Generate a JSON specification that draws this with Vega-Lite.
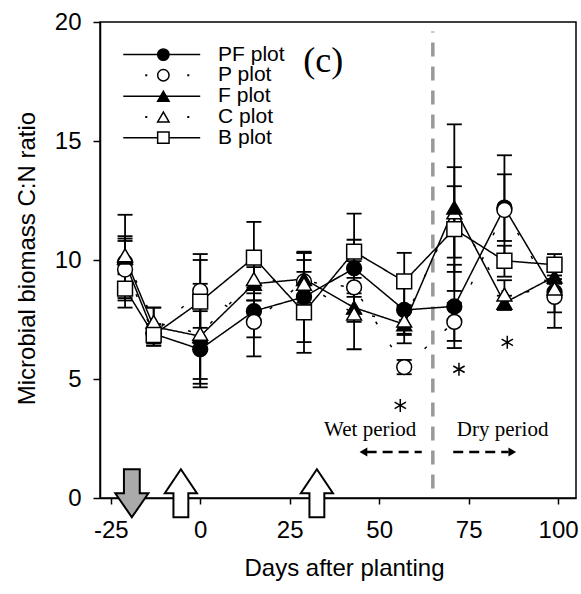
{
  "$schema": "https://vega.github.io/schema/vega-lite/v6.json",
  "width": 476,
  "height": 476,
  "autosize": {"type": "none"},
  "padding": {"left": 100, "top": 22, "right": 5, "bottom": 96},
  "background": "white",
  "config": {
    "view": {"stroke": "black", "strokeWidth": 1.5},
    "axis": {
      "grid": false,
      "domainColor": "black",
      "tickColor": "black",
      "domainWidth": 1.5,
      "tickWidth": 1.5,
      "labelFont": "Liberation Sans",
      "titleFont": "Liberation Sans",
      "labelFontSize": 24,
      "titleFontSize": 24,
      "labelColor": "black",
      "titleColor": "black",
      "titleFontWeight": "normal",
      "labelFlush": false,
      "labelOverlap": false
    }
  },
  "datasets": {
    "main": [
      {"s": "PF", "d": -21, "v": 9.9, "lo": 8.9, "hi": 10.9},
      {"s": "PF", "d": -13, "v": 6.9, "lo": 6.6, "hi": 7.2},
      {"s": "PF", "d": 0, "v": 6.25, "lo": 4.65, "hi": 7.85},
      {"s": "PF", "d": 15, "v": 7.85, "lo": 6.75, "hi": 8.95},
      {"s": "PF", "d": 29, "v": 8.45, "lo": 6.55, "hi": 10.35},
      {"s": "PF", "d": 43, "v": 9.65, "lo": 8.45, "hi": 10.85},
      {"s": "PF", "d": 57, "v": 7.9, "lo": 6.9, "hi": 8.9},
      {"s": "PF", "d": 71, "v": 8.05, "lo": 6.3, "hi": 9.8},
      {"s": "PF", "d": 85, "v": 12.2, "lo": 10.8, "hi": 13.6},
      {"s": "PF", "d": 99, "v": 8.65, "lo": 7.8, "hi": 9.5},
      {"s": "P", "d": -21, "v": 9.6, "lo": 8.4, "hi": 10.8},
      {"s": "P", "d": -13, "v": 6.9, "lo": 6.5, "hi": 7.3},
      {"s": "P", "d": 0, "v": 8.7, "lo": 7.15, "hi": 10.25},
      {"s": "P", "d": 15, "v": 7.4, "lo": 5.95, "hi": 8.85},
      {"s": "P", "d": 29, "v": 9.1, "lo": 8.2, "hi": 10.0},
      {"s": "P", "d": 43, "v": 8.85, "lo": 7.75, "hi": 9.95},
      {"s": "P", "d": 57, "v": 5.5, "lo": 5.2, "hi": 5.8},
      {"s": "P", "d": 71, "v": 7.4, "lo": 6.6, "hi": 8.2},
      {"s": "P", "d": 85, "v": 12.1, "lo": 9.8, "hi": 14.4},
      {"s": "P", "d": 99, "v": 8.45, "lo": 7.15, "hi": 9.75},
      {"s": "C", "d": 71, "v": 12.0, "lo": 10.1, "hi": 13.9},
      {"s": "F", "d": -21, "v": 10.1, "lo": 8.3, "hi": 11.9},
      {"s": "F", "d": -13, "v": 7.2, "lo": 6.4, "hi": 8.0},
      {"s": "F", "d": 0, "v": 6.8, "lo": 5.0, "hi": 8.6},
      {"s": "F", "d": 15, "v": 9.0, "lo": 8.3, "hi": 9.7},
      {"s": "F", "d": 29, "v": 9.2, "lo": 8.1, "hi": 10.3},
      {"s": "F", "d": 43, "v": 8.0, "lo": 7.4, "hi": 8.6},
      {"s": "F", "d": 57, "v": 7.3, "lo": 6.5, "hi": 8.1},
      {"s": "F", "d": 71, "v": 12.2, "lo": 8.7, "hi": 15.7},
      {"s": "F", "d": 85, "v": 8.2, "lo": 7.9, "hi": 8.5},
      {"s": "F", "d": 99, "v": 9.3, "lo": 9.0, "hi": 9.6},
      {"s": "C", "d": -21, "v": 10.2, "lo": 9.4, "hi": 11.0},
      {"s": "C", "d": -13, "v": 7.4, "lo": 6.8, "hi": 8.0},
      {"s": "C", "d": 0, "v": 6.9, "lo": 4.8, "hi": 9.0},
      {"s": "C", "d": 15, "v": 9.2, "lo": 8.3, "hi": 10.1},
      {"s": "C", "d": 29, "v": 9.0, "lo": 7.7, "hi": 10.3},
      {"s": "C", "d": 43, "v": 7.75, "lo": 6.25, "hi": 9.25},
      {"s": "C", "d": 57, "v": 7.45, "lo": 6.85, "hi": 8.05},
      {"s": "C", "d": 85, "v": 8.55, "lo": 7.95, "hi": 9.15},
      {"s": "C", "d": 99, "v": 8.8, "lo": 8.4, "hi": 9.2},
      {"s": "B", "d": -21, "v": 8.8, "lo": 8.0, "hi": 9.6},
      {"s": "B", "d": -13, "v": 6.85, "lo": 6.4, "hi": 7.3},
      {"s": "B", "d": 0, "v": 8.25, "lo": 6.5, "hi": 10.0},
      {"s": "B", "d": 15, "v": 10.1, "lo": 8.6, "hi": 11.6},
      {"s": "B", "d": 29, "v": 7.8, "lo": 6.1, "hi": 9.5},
      {"s": "B", "d": 43, "v": 10.35, "lo": 8.75, "hi": 11.95},
      {"s": "B", "d": 57, "v": 9.1, "lo": 7.9, "hi": 10.3},
      {"s": "B", "d": 71, "v": 11.3, "lo": 9.5, "hi": 13.1},
      {"s": "B", "d": 85, "v": 9.97, "lo": 9.3, "hi": 10.6},
      {"s": "B", "d": 99, "v": 9.8, "lo": 9.35, "hi": 10.25}
    ],
    "legend": [
      {"s": "PF", "label": "PF plot", "y": 18.63, "x1": -21.5, "x2": 0, "xs": -10.3, "xt": 5},
      {"s": "P", "label": "P plot", "y": 17.76, "x1": -21.5, "x2": 0, "xs": -10.3, "xt": 5},
      {"s": "F", "label": "F plot", "y": 16.88, "x1": -21.5, "x2": 0, "xs": -10.3, "xt": 5},
      {"s": "C", "label": "C plot", "y": 16.01, "x1": -21.5, "x2": 0, "xs": -10.3, "xt": 5},
      {"s": "B", "label": "B plot", "y": 15.14, "x1": -21.5, "x2": 0, "xs": -10.3, "xt": 5}
    ]
  },
  "layer": [
    {
      "data": {"values": [{"x": 65, "y1": 0.4, "y2": 19.6}]},
      "mark": {"type": "rule", "color": "#999999", "strokeWidth": 3.5, "strokeDash": [14, 10]},
      "encoding": {
        "x": {"field": "x", "type": "quantitative", "scale": {"domain": [-28, 105], "nice": false, "zero": false},
          "axis": {"values": [-25, 0, 25, 50, 75, 100], "labelExpr": "'' + datum.value", "title": "Days after planting", "tickSize": 6, "labelPadding": 14, "titleX": 244, "titleY": 77, "titleBaseline": "alphabetic", "titleAlign": "center"}},
        "y": {"field": "y1", "type": "quantitative", "scale": {"domain": [0, 20], "nice": false},
          "axis": {"values": [0, 5, 10, 15, 20], "title": "Microbial biomass C:N ratio", "tickSize": 7, "labelPadding": 12, "titleX": -66, "titleY": 236, "titleAngle": -90, "titleBaseline": "alphabetic", "titleAlign": "center"}},
        "y2": {"field": "y2"}
      }
    },
    {
      "data": {"name": "main"},
      "mark": {"type": "rule", "color": "black", "strokeWidth": 1.8},
      "encoding": {
        "x": {"field": "d", "type": "quantitative"},
        "y": {"field": "lo", "type": "quantitative"},
        "y2": {"field": "hi"}
      }
    },
    {
      "data": {"name": "main"},
      "mark": {"type": "tick", "orient": "horizontal", "color": "black", "size": 15, "thickness": 1.8, "opacity": 1},
      "encoding": {
        "x": {"field": "d", "type": "quantitative"},
        "y": {"field": "lo", "type": "quantitative"}
      }
    },
    {
      "data": {"name": "main"},
      "mark": {"type": "tick", "orient": "horizontal", "color": "black", "size": 15, "thickness": 1.8, "opacity": 1},
      "encoding": {
        "x": {"field": "d", "type": "quantitative"},
        "y": {"field": "hi", "type": "quantitative"}
      }
    },
    {
      "data": {"name": "main"},
      "mark": {"type": "line", "color": "black", "strokeWidth": 1.5},
      "encoding": {
        "x": {"field": "d", "type": "quantitative"},
        "y": {"field": "v", "type": "quantitative"},
        "detail": {"field": "s", "type": "nominal"},
        "strokeDash": {"field": "s", "type": "nominal", "scale": {"domain": ["PF", "P", "F", "C", "B"], "range": [[1, 0], [3, 24], [1, 0], [3, 24], [1, 0]]}, "legend": null}
      }
    },
    {
      "data": {"name": "main"},
      "mark": {"type": "point", "filled": true, "opacity": 1, "stroke": "black", "strokeWidth": 1.5},
      "encoding": {
        "x": {"field": "d", "type": "quantitative"},
        "y": {"field": "v", "type": "quantitative"},
        "shape": {"field": "s", "type": "nominal", "scale": {"domain": ["PF", "P", "F", "C", "B"], "range": ["circle", "circle", "triangle-up", "triangle-up", "square"]}, "legend": null},
        "fill": {"field": "s", "type": "nominal", "scale": {"domain": ["PF", "P", "F", "C", "B"], "range": ["black", "white", "black", "white", "white"]}, "legend": null},
        "size": {"field": "s", "type": "nominal", "scale": {"domain": ["PF", "P", "F", "C", "B"], "range": [220, 220, 200, 200, 150]}, "legend": null}
      }
    },
    {
      "data": {"name": "legend"},
      "transform": [{"filter": {"field": "s", "oneOf": ["PF", "F", "B"]}}],
      "mark": {"type": "rule", "color": "black", "strokeWidth": 1.5},
      "encoding": {
        "x": {"field": "x1", "type": "quantitative"},
        "x2": {"field": "x2"},
        "y": {"field": "y", "type": "quantitative"}
      }
    },
    {
      "data": {"name": "legend"},
      "transform": [{"filter": {"field": "s", "oneOf": ["P", "C"]}}],
      "mark": {"type": "rule", "color": "black", "strokeWidth": 2, "strokeDash": [2, 40], "strokeDashOffset": 20},
      "encoding": {
        "x": {"field": "x1", "type": "quantitative"},
        "x2": {"field": "x2"},
        "y": {"field": "y", "type": "quantitative"}
      }
    },
    {
      "data": {"name": "legend"},
      "mark": {"type": "point", "filled": true, "opacity": 1, "stroke": "black", "strokeWidth": 1.5, "size": 130},
      "encoding": {
        "x": {"field": "xs", "type": "quantitative"},
        "y": {"field": "y", "type": "quantitative"},
        "shape": {"field": "s", "type": "nominal", "legend": null},
        "fill": {"field": "s", "type": "nominal", "legend": null}
      }
    },
    {
      "data": {"name": "legend"},
      "mark": {"type": "text", "align": "left", "baseline": "middle", "font": "Liberation Sans", "fontSize": 21, "color": "black"},
      "encoding": {
        "x": {"field": "xt", "type": "quantitative"},
        "y": {"field": "y", "type": "quantitative"},
        "text": {"field": "label"}
      }
    },
    {
      "data": {"values": [{"t": "(c)", "x": 34.4, "y": 18.35}]},
      "mark": {"type": "text", "align": "center", "baseline": "middle", "font": "Liberation Serif", "fontSize": 36, "color": "black"},
      "encoding": {
        "x": {"field": "x", "type": "quantitative"},
        "y": {"field": "y", "type": "quantitative"},
        "text": {"field": "t"}
      }
    },
    {
      "data": {"values": [{"t": "Wet period", "x": 47.5, "y": 2.84}, {"t": "Dry period", "x": 84.5, "y": 2.84}]},
      "mark": {"type": "text", "align": "center", "baseline": "middle", "font": "Liberation Serif", "fontSize": 21, "color": "black"},
      "encoding": {
        "x": {"field": "x", "type": "quantitative"},
        "y": {"field": "y", "type": "quantitative"},
        "text": {"field": "t"}
      }
    },
    {
      "data": {"values": [{"x1": 46.5, "x2": 61.9, "y": 1.93}, {"x1": 70.7, "x2": 86.2, "y": 1.93}]},
      "mark": {"type": "rule", "color": "black", "strokeWidth": 2.5, "strokeDash": [10, 6]},
      "encoding": {
        "x": {"field": "x1", "type": "quantitative"},
        "x2": {"field": "x2"},
        "y": {"field": "y", "type": "quantitative"}
      }
    },
    {
      "data": {"values": [{"x": 45.6, "y": 1.93}]},
      "mark": {"type": "point", "shape": "triangle-left", "filled": true, "color": "black", "opacity": 1, "size": 80},
      "encoding": {
        "x": {"field": "x", "type": "quantitative"},
        "y": {"field": "y", "type": "quantitative"}
      }
    },
    {
      "data": {"values": [{"x": 87.2, "y": 1.93}]},
      "mark": {"type": "point", "shape": "triangle-right", "filled": true, "color": "black", "opacity": 1, "size": 80},
      "encoding": {
        "x": {"field": "x", "type": "quantitative"},
        "y": {"field": "y", "type": "quantitative"}
      }
    },
    {
      "data": {"values": [{"x": 55.9, "y": 3.89}, {"x": 72.3, "y": 5.41}, {"x": 85.8, "y": 6.54}]},
      "mark": {"type": "point", "shape": "M0,-1L0,1M-0.87,-0.5L0.87,0.5M-0.87,0.5L0.87,-0.5", "filled": false, "stroke": "black", "strokeWidth": 1.5, "opacity": 1, "size": 170},
      "encoding": {
        "x": {"field": "x", "type": "quantitative"},
        "y": {"field": "y", "type": "quantitative"}
      }
    },
    {
      "data": {"values": [{"x": -19.1, "y": 0.2}]},
      "mark": {"type": "point", "shape": "M-0.33,-1L0.33,-1L0.33,0L0.69,0L0,1L-0.69,0L-0.33,0Z", "filled": true, "fill": "#aaaaaa", "stroke": "black", "strokeWidth": 2, "opacity": 1, "size": 2304},
      "encoding": {
        "x": {"field": "x", "type": "quantitative"},
        "y": {"field": "y", "type": "quantitative"}
      }
    },
    {
      "data": {"values": [{"x": -5.4, "y": 0.2}, {"x": 32.6, "y": 0.2}]},
      "mark": {"type": "point", "shape": "M0,-1L0.67,0L0.31,0L0.31,1L-0.31,1L-0.31,0L-0.67,0Z", "filled": true, "fill": "white", "stroke": "black", "strokeWidth": 2, "opacity": 1, "size": 2304},
      "encoding": {
        "x": {"field": "x", "type": "quantitative"},
        "y": {"field": "y", "type": "quantitative"}
      }
    }
  ]
}
